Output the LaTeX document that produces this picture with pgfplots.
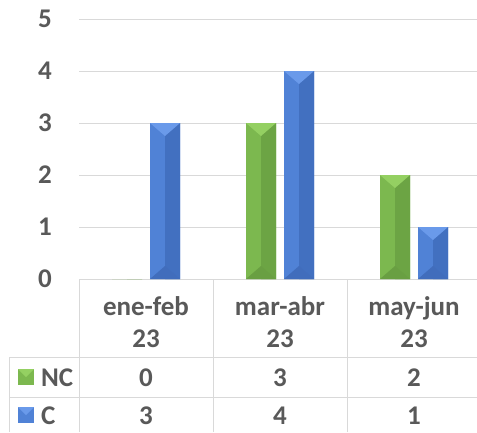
\documentclass[border=0pt]{standalone}
\usepackage{pgfplots}
\pgfplotsset{compat=1.18}
\usepackage{fontspec}
\setmainfont{Carlito}
\definecolor{txt}{HTML}{595959}
\definecolor{grd}{HTML}{D9D9D9}
\definecolor{gL}{HTML}{7CB84F}
\definecolor{gR}{HTML}{6CA444}
\definecolor{gT}{HTML}{94D062}
\definecolor{gB}{HTML}{699F42}
\definecolor{bL}{HTML}{5082D6}
\definecolor{bR}{HTML}{4270C0}
\definecolor{bT}{HTML}{6A9AEA}
\definecolor{bB}{HTML}{416DBC}
\pgfdeclareplotmark{bevtop}{\pgfpathmoveto{\pgfpoint{-15pt}{0pt}}\pgfpathlineto{\pgfpoint{15pt}{0pt}}\pgfpathlineto{\pgfpoint{0pt}{-13pt}}\pgfpathclose\pgfusepathqfill}
\pgfdeclareplotmark{bevbot}{\pgfpathmoveto{\pgfpoint{-15pt}{0pt}}\pgfpathlineto{\pgfpoint{15pt}{0pt}}\pgfpathlineto{\pgfpoint{0pt}{13pt}}\pgfpathclose\pgfusepathqfill}
\pgfplotstableread{
x nc c
0 0 3
1 3 4
2 2 1
}\datatab
\begin{document}
\begin{tikzpicture}[x=1pt,y=1pt]
\useasboundingbox (0,0) rectangle (477,432);
\begin{axis}[
  at={(79pt,153pt)}, anchor=south west,
  scale only axis, width=402pt, height=260pt,
  xmin=-0.5, xmax=2.5, ymin=0, ymax=5,
  axis line style={draw=none},
  tick style={draw=none},
  ymajorgrids, grid style={grd, line width=1pt},
  ytick={0,1,2,3,4,5}, yticklabels={0,1,2,3,4,5},
  yticklabel style={font=\fontsize{27}{33}\selectfont\bfseries, text=txt, inner sep=0pt, anchor=east, xshift=-27pt},
  xtick={0,1,2},
  xticklabels={{ene-feb\\23},{mar-abr\\23},{may-jun\\23}},
  xticklabel style={font=\fontsize{27}{32}\selectfont\bfseries, text=txt, inner sep=0pt, align=center, anchor=north, yshift=-17pt},
  clip=false,
]
% NC series
\addplot[ybar, bar width=30pt, bar shift=-19pt, draw=none, fill=gL] table[x=x,y=nc] {\datatab};
\addplot[ybar, bar width=15pt, bar shift=-11.5pt, draw=none, fill=gR] table[x=x,y=nc] {\datatab};
% C series
\addplot[ybar, bar width=30pt, bar shift=19pt, draw=none, fill=bL] table[x=x,y=c] {\datatab};
\addplot[ybar, bar width=15pt, bar shift=26.5pt, draw=none, fill=bR] table[x=x,y=c] {\datatab};
% bevel tops and bottoms
\addplot[only marks, mark=bevtop, gT, every mark/.append style={xshift=-19pt}] coordinates {(1,3) (2,2)};
\addplot[only marks, mark=bevbot, gB, every mark/.append style={xshift=-19pt}] coordinates {(1,0) (2,0)};
\addplot[only marks, mark=bevtop, bT, every mark/.append style={xshift=19pt}] table[x=x,y=c] {\datatab};
\addplot[only marks, mark=bevbot, bB, every mark/.append style={xshift=19pt}] coordinates {(0,0) (1,0) (2,0)};
\end{axis}
% data table grid
\draw[grd, line width=1pt] (9,75) -- (481,75);
\draw[grd, line width=1pt] (9,35) -- (481,35);
\draw[grd, line width=1pt] (9,0) -- (9,75);
\foreach \x in {79,213,347,481} \draw[grd, line width=1pt] (\x,0) -- (\x,153);
% legend keys
\fill[gL] (18,47) rectangle (34,63);
\fill[gT] (18,63) -- (34,63) -- (26,55) -- cycle;
\fill[bL] (18,9) rectangle (34,25);
\fill[bT] (18,25) -- (34,25) -- (26,17) -- cycle;
\begin{scope}[every node/.style={font=\fontsize{27}{33}\selectfont\bfseries, text=txt, inner sep=0pt}]
\node[anchor=west] at (41,54) {NC};
\node[anchor=west] at (41,16) {C};
\node at (146,54) {0};
\node at (280,54) {3};
\node at (414,54) {2};
\node at (146,16) {3};
\node at (280,16) {4};
\node at (414,16) {1};
\end{scope}
\end{tikzpicture}
\end{document}
